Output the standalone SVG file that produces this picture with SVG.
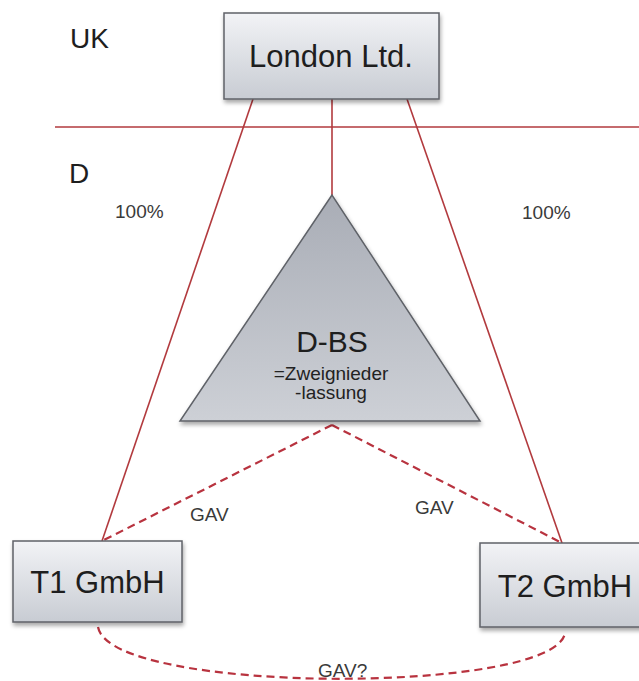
<svg xmlns="http://www.w3.org/2000/svg" width="639" height="681" viewBox="0 0 639 681">
<defs>
<linearGradient id="boxg" x1="0" y1="0" x2="0" y2="1">
<stop offset="0" stop-color="#f2f3f6"/>
<stop offset="1" stop-color="#c8ccd3"/>
</linearGradient>
<linearGradient id="trig" x1="0" y1="0" x2="0" y2="1">
<stop offset="0" stop-color="#a9adb6"/>
<stop offset="1" stop-color="#cdd0d6"/>
</linearGradient>
<filter id="sh" x="-10%" y="-10%" width="130%" height="140%">
<feDropShadow dx="1" dy="3" stdDeviation="2" flood-color="#000" flood-opacity="0.35"/>
</filter>
</defs>
<style>
.box{fill:url(#boxg);stroke:#5f6268;stroke-width:1.5;filter:url(#sh)}
.tri{fill:url(#trig);stroke:#5f6268;stroke-width:1.5;filter:url(#sh)}
.big{font-family:"Liberation Sans",Arial,sans-serif;font-size:31px;fill:#1e1e1e;text-anchor:middle}
.lbl{font-family:"Liberation Sans",Arial,sans-serif;font-size:19px;fill:#3a3a3a}
.reg{font-family:"Liberation Sans",Arial,sans-serif;font-size:28px;fill:#1e1e1e}
.sol{stroke:#b23a3e;stroke-width:1.6;fill:none}
.dash{stroke:#b8333f;stroke-width:2.2;fill:none;stroke-dasharray:8 5}
</style>
<rect width="639" height="681" fill="#ffffff"/>
<text class="reg" x="70" y="48">UK</text>
<text class="reg" x="69" y="183">D</text>
<g id="connectors">
<line class="sol" x1="55" y1="127" x2="639" y2="127"/>
<line class="sol" x1="253" y1="99" x2="102" y2="541"/>
<line class="sol" x1="332" y1="99" x2="332" y2="195"/>
<line class="sol" x1="407" y1="99" x2="562" y2="543"/>
<path class="dash" d="M332,425 L102,541"/>
<path class="dash" d="M332,425 L562,543"/>
<path class="dash" d="M98,627 C110,695 555,695 565,633"/>
<text class="lbl" x="115" y="218">100%</text>
<text class="lbl" x="522" y="219">100%</text>
<text class="lbl" x="190" y="521">GAV</text>
<text class="lbl" x="415" y="514">GAV</text>
<text class="lbl" x="318" y="677">GAV?</text>
</g>
<g id="london">
<rect class="box" x="224" y="13" width="215" height="86"/>
<text class="big" x="331" y="67">London Ltd.</text>
</g>
<g id="dbs">
<polygon class="tri" points="332,195 180,421 480,421"/>
<text class="big" x="332" y="352" style="font-size:30px">D-BS</text>
<text class="lbl" x="331" y="380" text-anchor="middle" style="fill:#222">=Zweignieder</text>
<text class="lbl" x="331" y="399" text-anchor="middle" style="fill:#222">-lassung</text>
</g>
<g id="t1">
<rect class="box" x="13" y="541" width="169" height="81"/>
<text class="big" x="97.5" y="593">T1 GmbH</text>
</g>
<g id="t2">
<rect class="box" x="480" y="543" width="172" height="84"/>
<text class="big" x="565" y="597">T2 GmbH</text>
</g>
</svg>
